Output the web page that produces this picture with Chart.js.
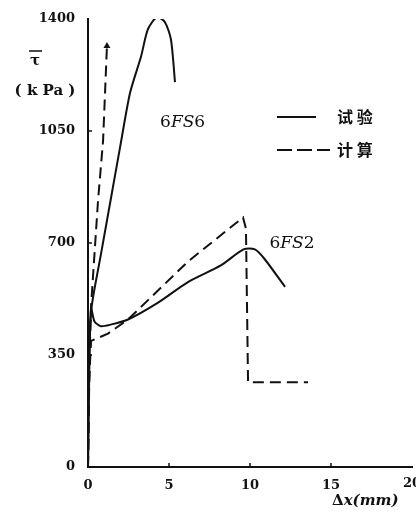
<!DOCTYPE html>
<html><head><meta charset="utf-8">
<script src="https://cdn.jsdelivr.net/npm/chart.js@4.4.0/dist/chart.umd.min.js"></script>
<style>html,body{margin:0;padding:0;background:#fff}#wrap{width:416px;height:515px;position:relative}</style>
</head><body><div id="wrap"><canvas id="c" width="416" height="515"></canvas></div>
<script>
// ---- data ----
const xTicks = [0, 5, 10, 15, 20];
const yTicks = [0, 350, 700, 1050, 1400];

// 6FS6 test (solid)
const fs6TestX = [0, 0.08, 0.2, 0.8, 1.4, 2.0, 2.6, 3.27, 3.7, 4.26, 4.75, 5.12, 5.37];
const fs6TestY = [0, 300, 490, 665, 835, 1005, 1170, 1282, 1368, 1406, 1390, 1336, 1203];
// 6FS6 calculation (dashed)
const fs6CalcX = [0, 0.1, 0.19, 0.62, 0.93, 1.17];
const fs6CalcY = [0, 350, 505, 833, 1019, 1316];
// 6FS2 test (solid)
const fs2TestX = [0, 0.06, 0.19, 0.4, 0.8, 1.4, 2.47, 4.3, 6.17, 8.2, 9.6, 10.3, 10.9, 12.16];
const fs2TestY = [0, 300, 496, 455, 440, 445, 461, 513, 578, 630, 680, 680, 650, 563];
// 6FS2 calculation (dashed)
const fs2CalcX = [0, 0.05, 0.19, 1.23, 2.47, 6.17, 9.57, 9.75, 9.88, 13.58];
const fs2CalcY = [0, 250, 394, 417, 461, 642, 780, 745, 265, 265];

const legendLabels = ['试 验', '计 算'];
const curveLabels = [{ parts: ['6', 'FS', '6'], x: 4.45, y: 1075 }, { parts: ['6', 'FS', '2'], x: 11.2, y: 697 }];

const INK = '#111';
const zip = (xs, ys) => xs.map((v, i) => ({ x: v, y: ys[i] }));
const SERIF = '"DejaVu Serif", "Liberation Serif", serif';

function ds(xs, ys, dashed, extra) {
  return Object.assign({
    data: zip(xs, ys), showLine: true, pointRadius: 0, borderColor: INK,
    borderWidth: 2, borderDash: dashed ? [11, 6] : [], tension: dashed ? 0 : 0.25, fill: false
  }, extra || {});
}

const deco = {
  id: 'deco',
  afterDraw(chart) {
    const { ctx, scales: { x, y }, chartArea: a } = chart;
    ctx.save();
    ctx.strokeStyle = INK; ctx.fillStyle = INK; ctx.lineWidth = 1.5;
    // inward tick marks
    xTicks.slice(1, -1).forEach(v => { const p = x.getPixelForValue(v); ctx.beginPath(); ctx.moveTo(p, a.bottom); ctx.lineTo(p, a.bottom - 4); ctx.stroke(); });
    yTicks.slice(1, -1).forEach(v => { const p = y.getPixelForValue(v); ctx.beginPath(); ctx.moveTo(a.left, p); ctx.lineTo(a.left + 4, p); ctx.stroke(); });
    // last x tick label (cut by the edge)
    ctx.font = 'bold 13px ' + SERIF; ctx.textAlign = 'center'; ctx.textBaseline = 'middle';
    ctx.fillText(String(xTicks[xTicks.length - 1]), x.getPixelForValue(xTicks[xTicks.length - 1]), a.bottom + 17);
    // x title
    ctx.textAlign = 'left'; ctx.textBaseline = 'middle';
    ctx.font = 'bold 15px ' + SERIF; ctx.fillText('Δ', 332, 501);
    let w = ctx.measureText('Δ').width;
    ctx.font = 'italic bold 15px ' + SERIF; ctx.fillText('x(mm)', 332 + w, 501);
    // y title
    ctx.font = 'bold 15px ' + SERIF; ctx.textAlign = 'center';
    ctx.fillText('τ', 35, 61);
    ctx.lineWidth = 1.5; ctx.beginPath(); ctx.moveTo(29, 51); ctx.lineTo(42, 51); ctx.stroke();
    ctx.font = 'bold 15px ' + SERIF; ctx.fillText('( k Pa )', 45, 91);
    // curve labels
    curveLabels.forEach(l => {
      let px = x.getPixelForValue(l.x); const py = y.getPixelForValue(l.y);
      ctx.textAlign = 'left';
      l.parts.forEach((s, i) => {
        ctx.font = (i === 1 ? 'italic ' : '') + '17px ' + SERIF;
        ctx.fillText(s, px, py); px += ctx.measureText(s).width;
      });
    });
    // legend
    ctx.lineWidth = 2;
    ctx.setLineDash([]); ctx.beginPath(); ctx.moveTo(277, 117); ctx.lineTo(316, 117); ctx.stroke();
    ctx.setLineDash([15, 5]); ctx.beginPath(); ctx.moveTo(277, 150); ctx.lineTo(330, 150); ctx.stroke();
    ctx.setLineDash([]);
    ctx.font = 'bold 16px "Noto Sans CJK SC"'; ctx.textAlign = 'left';
    ctx.fillText(legendLabels[0], 337, 117);
    ctx.fillText(legendLabels[1], 337, 150);
    ctx.restore();
  }
};

new Chart(document.getElementById('c'), {
  type: 'scatter',
  data: {
    datasets: [
      ds(fs6TestX, fs6TestY, false),
      ds(fs6CalcX, fs6CalcY, true, { pointRadius: fs6CalcX.map((v, i) => i === fs6CalcX.length - 1 ? 4 : 0), pointStyle: 'triangle', pointBackgroundColor: INK, pointBorderWidth: 0 }),
      ds(fs2TestX, fs2TestY, false),
      ds(fs2CalcX, fs2CalcY, true)
    ]
  },
  options: {
    responsive: false, animation: false, devicePixelRatio: 1,
    layout: { padding: { top: 19, right: 3, left: 0, bottom: 0 } },
    plugins: { legend: { display: false }, tooltip: { enabled: false } },
    scales: {
      x: {
        type: 'linear', min: 0, max: 20,
        afterBuildTicks: s => { s.ticks = xTicks.map(v => ({ value: v })); },
        ticks: { color: INK, font: { family: SERIF, size: 13, weight: 'bold' }, padding: 3, maxRotation: 0,
          callback: v => v === xTicks[xTicks.length - 1] ? '' : String(v) },
        grid: { display: false },
        border: { display: true, color: INK, width: 2 },
        afterFit: s => { s.height = 48; }
      },
      y: {
        type: 'linear', min: 0, max: 1400,
        afterBuildTicks: s => { s.ticks = yTicks.map(v => ({ value: v })); },
        ticks: { color: INK, font: { family: SERIF, size: 13, weight: 'bold' }, padding: 5, callback: v => String(v) },
        grid: { display: false },
        border: { display: true, color: INK, width: 2 },
        afterFit: s => { s.width = 88; }
      }
    }
  },
  plugins: [deco]
});
</script></body></html>
